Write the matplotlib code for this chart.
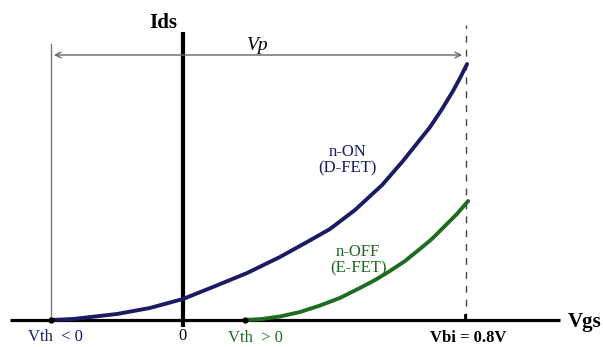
import matplotlib.pyplot as plt

# ===== data (volts, Ids in arbitrary units) =====
vth_neg = -0.374
vth_pos = 0.176
vbi = 0.8

v_on = [-0.374, -0.312, -0.187, -0.094, 0.0, 0.085, 0.182, 0.275, 0.352,
        0.417, 0.488, 0.565, 0.624, 0.701, 0.735, 0.766, 0.786, 0.806]
i_on = [0.0, 0.01, 0.06, 0.12, 0.21, 0.33, 0.47, 0.63, 0.78,
        0.91, 1.10, 1.35, 1.59, 1.93, 2.11, 2.29, 2.42, 2.56]

v_off = [0.176, 0.224, 0.275, 0.332, 0.389, 0.445, 0.502, 0.545, 0.587,
         0.630, 0.672, 0.706, 0.743, 0.777, 0.809]
i_off = [0.0, 0.01, 0.035, 0.08, 0.145, 0.22, 0.32, 0.40, 0.49,
         0.59, 0.71, 0.81, 0.94, 1.06, 1.19]

navy = "#1b1a63"
green = "#1f6b22"

plt.rcParams['font.family'] = ['Liberation Serif', 'DejaVu Serif']

fig = plt.figure(figsize=(6.03, 3.47), dpi=100)
ax = fig.add_axes([0, 0, 1, 1])
ax.set_xlim(-0.519, 1.1915)
ax.set_ylim(-0.27, 3.20)
ax.axis("off")

# axes
ax.plot([-0.491, 1.07], [0, 0], color="black", lw=2.3, solid_capstyle="butt")
ax.plot([0, 0], [-0.07, 2.88], color="black", lw=3.0, solid_capstyle="butt")

# guides
ax.plot([vth_neg, vth_neg], [0, 2.76], color="#777777", lw=1.0)
ax.plot([vbi * 1.003, vbi * 1.003], [0, 2.95], color="#444444", lw=1.0,
        dashes=(5, 5))
ax.annotate("", xy=(vth_neg, 2.65), xytext=(vbi, 2.65),
            arrowprops=dict(arrowstyle="<->", color="#666666", lw=1.0))

# curves
ax.plot(v_on, i_on, color=navy, lw=2.8, solid_capstyle="round")
ax.plot(v_off, i_off, color=green, lw=2.8, solid_capstyle="round")

# points on axis
ax.plot([vth_neg, vth_pos], [0, 0], "o", color="black", ms=3.5)
ax.plot([vbi, vbi], [0, 0.05], color="black", lw=2)

# texts
ax.text(-0.057, 2.97, "Ids", fontsize=15, fontweight="bold", ha="center", va="center")
ax.text(1.140, -0.02, "Vgs", fontsize=15, fontweight="bold", ha="center", va="center")
ax.text(0.213, 2.74, "Vp", fontsize=14, style="italic", ha="center", va="center")
ax.text(-0.363, -0.17, "Vth  < 0", fontsize=12, color=navy, ha="center", va="center")
ax.text(0, -0.165, "0", fontsize=12, color="black", ha="center", va="center")
ax.text(0.207, -0.18, "Vth  > 0", fontsize=12, color=green, ha="center", va="center")
ax.text(0.81, -0.18, "Vbi = 0.8V", fontsize=12, fontweight="bold", ha="center", va="center")
ax.text(0.466, 1.60, "n-ON\n(D-FET)", fontsize=12, color=navy, ha="center",
        va="center", linespacing=1.0)
ax.text(0.497, 0.60, "n-OFF\n(E-FET)", fontsize=12, color=green, ha="center",
        va="center", linespacing=1.0)

fig.savefig("out.png", dpi=100)
